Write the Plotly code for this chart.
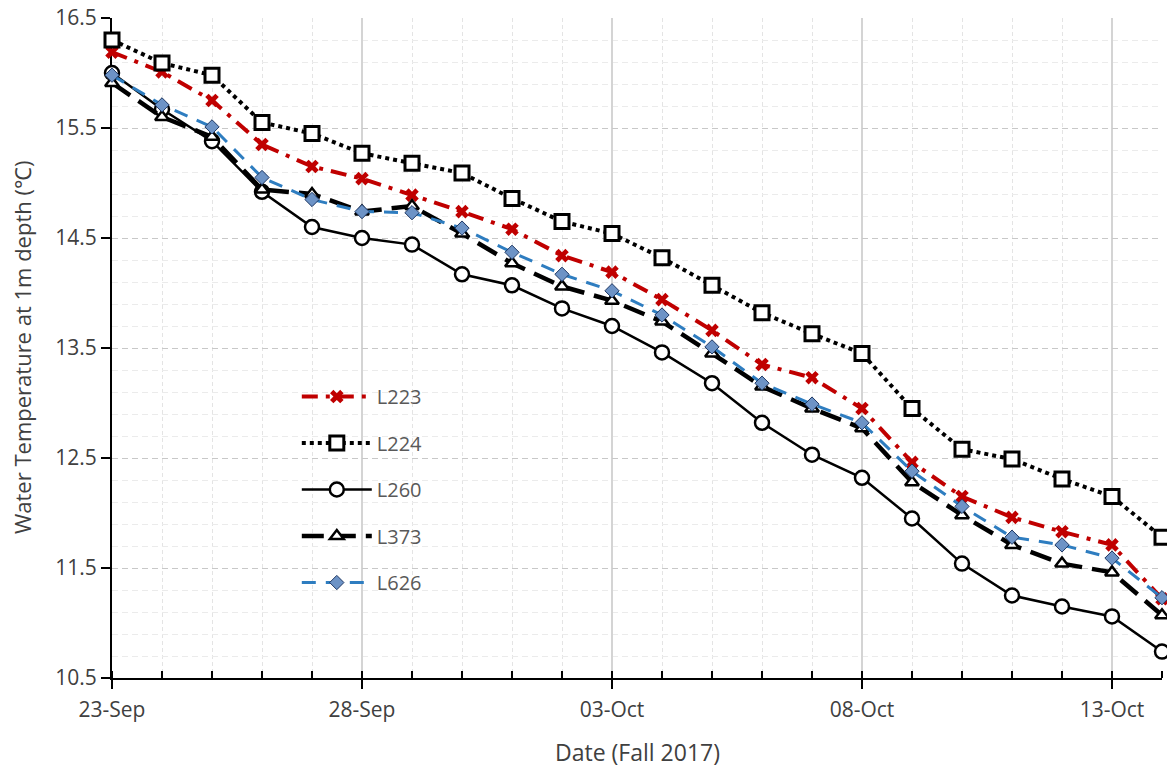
import plotly.graph_objects as go

dates = ["2017-09-23", "2017-09-24", "2017-09-25", "2017-09-26", "2017-09-27", "2017-09-28",
         "2017-09-29", "2017-09-30", "2017-10-01", "2017-10-02", "2017-10-03", "2017-10-04",
         "2017-10-05", "2017-10-06", "2017-10-07", "2017-10-08", "2017-10-09", "2017-10-10",
         "2017-10-11", "2017-10-12", "2017-10-13", "2017-10-14"]

L223 = [16.19, 16.01, 15.75, 15.35, 15.15, 15.04, 14.89, 14.74, 14.58, 14.34, 14.19,
        13.94, 13.66, 13.35, 13.23, 12.95, 12.46, 12.15, 11.96, 11.83, 11.71, 11.22]
L224 = [16.30, 16.09, 15.98, 15.55, 15.45, 15.27, 15.18, 15.09, 14.86, 14.65, 14.54,
        14.32, 14.07, 13.82, 13.63, 13.45, 12.95, 12.58, 12.49, 12.31, 12.15, 11.78]
L260 = [16.00, 15.67, 15.38, 14.92, 14.60, 14.50, 14.44, 14.17, 14.07, 13.86, 13.70,
        13.46, 13.18, 12.82, 12.53, 12.32, 11.95, 11.54, 11.25, 11.15, 11.06, 10.74]
L373 = [15.91, 15.60, 15.42, 14.94, 14.90, 14.74, 14.79, 14.54, 14.27, 14.06, 13.93,
        13.74, 13.45, 13.15, 12.95, 12.77, 12.28, 11.98, 11.71, 11.54, 11.46, 11.07]
L626 = [15.98, 15.71, 15.51, 15.05, 14.85, 14.74, 14.73, 14.59, 14.37, 14.17, 14.02,
        13.80, 13.51, 13.18, 12.99, 12.82, 12.38, 12.06, 11.78, 11.71, 11.59, 11.23]

x_title = "Date (Fall 2017)"
y_title = "Water Temperature at 1m depth (℃)"

FONT = "Open Sans"
fig = go.Figure()

fig.add_trace(go.Scatter(
    x=dates, y=L223, name="L223", mode="lines+markers", legendgroup="a",
    line=dict(color="#c00000", width=4, dash="16px,8px,4px,8px"),
    marker=dict(symbol="x", size=12, color="#c00000", line=dict(width=0)),
    cliponaxis=False))
fig.add_trace(go.Scatter(
    x=dates, y=L224, name="L224", mode="lines+markers", legendgroup="b",
    line=dict(color="#000000", width=4, dash="dot"),
    marker=dict(symbol="square", size=14, color="white", line=dict(color="#000000", width=3)),
    cliponaxis=False))
fig.add_trace(go.Scatter(
    x=dates, y=L260, name="L260", mode="lines+markers", legendgroup="c",
    line=dict(color="#000000", width=2.5),
    marker=dict(symbol="circle", size=14, color="white", line=dict(color="#000000", width=2.5)),
    cliponaxis=False))
fig.add_trace(go.Scatter(
    x=dates, y=L373, name="L373", mode="lines+markers", legendgroup="d",
    line=dict(color="#000000", width=4.5, dash="22px,10px"),
    marker=dict(symbol="triangle-up", size=12, color="white", line=dict(color="#000000", width=2.5)),
    cliponaxis=False))
fig.add_trace(go.Scatter(
    x=dates, y=L626, name="L626", mode="lines+markers", legendgroup="e",
    line=dict(color="#2e7dc0", width=3, dash="14px,10px"),
    marker=dict(symbol="diamond", size=11, color="#6d93c6", line=dict(color="#1f3864", width=1)),
    cliponaxis=False))

fig.update_layout(
    width=1167, height=770,
    margin=dict(l=112, r=5, t=18, b=92, autoexpand=False),
    paper_bgcolor="white", plot_bgcolor="white",
    font=dict(family=FONT, size=21, color="#404040"),
    showlegend=True,
    legend=dict(
        x=0.176, y=0.456, xanchor="left", yanchor="top",
        bgcolor="rgba(0,0,0,0)", borderwidth=0,
        font=dict(family=FONT, size=20, color="#595959"),
        itemwidth=70, tracegroupgap=17.5,
    ),
    xaxis=dict(
        type="date", automargin=False,
        range=["2017-09-23", "2017-10-14"],
        tick0="2017-09-23", dtick=5 * 86400000,
        tickformat="%d-%b", ticklabelstandoff=3, ticklabeloverflow="allow",
        showline=True, linecolor="#000000", linewidth=2,
        ticks="outside", ticklen=9, tickwidth=2, tickcolor="#000000",
        showgrid=True, gridcolor="#d4d4d4", gridwidth=1.5,
        minor=dict(dtick=86400000, tick0="2017-09-23", showgrid=True,
                   gridcolor="#e4e4e4", gridwidth=1, griddash="4px,3px",
                   ticks="inside", ticklen=7, tickwidth=2, tickcolor="#000000"),
        zeroline=False, layer="below traces",
        tickfont=dict(family=FONT, size=21, color="#404040"),
    ),
    yaxis=dict(
        automargin=False, ticklabeloverflow="allow",
        range=[10.5, 16.5], tick0=10.5, dtick=1, tickformat=".1f",
        showline=True, linecolor="#000000", linewidth=2,
        ticks="outside", ticklen=9, tickwidth=2, tickcolor="#000000",
        showgrid=True, gridcolor="#c8c8c8", gridwidth=1.2, griddash="6px,4px",
        minor=dict(dtick=0.2, tick0=10.5, showgrid=True, gridcolor="#ebebeb", gridwidth=1),
        zeroline=False, layer="below traces",
        tickfont=dict(family=FONT, size=21, color="#404040"),
    ),
    annotations=[
        dict(text=x_title, xref="paper", yref="paper", x=0.5, y=-0.112,
             xanchor="center", yanchor="middle", showarrow=False,
             font=dict(family=FONT, size=23, color="#404040")),
        dict(text=y_title, xref="paper", yref="paper", x=-0.0857, y=0.5,
             xanchor="center", yanchor="middle", showarrow=False, textangle=-90,
             font=dict(family=FONT, size=22, color="#404040")),
    ],
)

fig.write_html("out.html", config={"displayModeBar": False},
               post_script="document.body.style.margin='0';")
